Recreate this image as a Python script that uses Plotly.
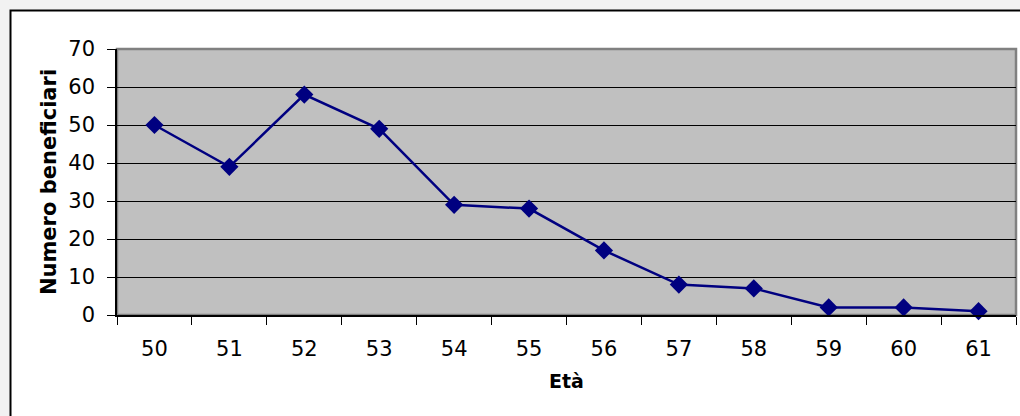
import plotly.graph_objects as go

eta = ["50", "51", "52", "53", "54", "55", "56", "57", "58", "59", "60", "61"]
beneficiari = [50, 39, 58, 49, 29, 28, 17, 8, 7, 2, 2, 1]
y_ticks = [0, 10, 20, 30, 40, 50, 60, 70]

L, R, T, B = 117, 4, 49, 101
W, H = 1020, 416
pw, ph = W - L - R, H - T - B

def px_x(p):
    return (p - L) / pw

def px_y(q):
    return (H - B - q) / ph

fig = go.Figure()
fig.add_trace(go.Scatter(
    x=eta, y=beneficiari, mode="lines+markers",
    line=dict(color="#000080", width=2.5),
    marker=dict(symbol="diamond", size=14, color="#000080"),
    cliponaxis=False, showlegend=False,
))

shapes = [
    # outer chart frame
    dict(type="rect", xref="paper", yref="paper", layer="below",
         x0=px_x(10.5), x1=px_x(1040), y0=px_y(440), y1=px_y(10.5),
         fillcolor="white", line=dict(color="black", width=2)),
    # plot area
    dict(type="rect", xref="paper", yref="paper", layer="below",
         x0=0, x1=1, y0=0, y1=1,
         fillcolor="#C0C0C0", line=dict(color="#808080", width=2.5)),
]

fig.update_layout(
    width=W, height=H,
    margin=dict(l=L, r=R, t=T, b=B),
    paper_bgcolor="#F2F2F2",
    plot_bgcolor="#C0C0C0",
    font=dict(family="DejaVu Sans", size=21, color="black"),
    shapes=shapes,
    xaxis=dict(
        type="category", tickson="boundaries", range=[-0.5, 11.5],
        ticks="outside", ticklen=8, tickcolor="black", tickwidth=1,
        ticklabelstandoff=14,
        showline=True, linecolor="black", linewidth=1.5,
        showgrid=False,
        title=dict(text="<b>Età</b>", font=dict(size=19), standoff=15),
        tickfont=dict(size=21),
    ),
    yaxis=dict(
        range=[0, 70], tickvals=y_ticks,
        ticks="outside", ticklen=8, tickcolor="black", tickwidth=1,
        ticklabelstandoff=8,
        showline=True, linecolor="black", linewidth=1.5,
        showgrid=True, gridcolor="black", gridwidth=1,
        zeroline=False,
        title=dict(text="<b>Numero beneficiari</b>", font=dict(size=21), standoff=6),
        tickfont=dict(size=21),
    ),
)

fig.write_html("out.html")
